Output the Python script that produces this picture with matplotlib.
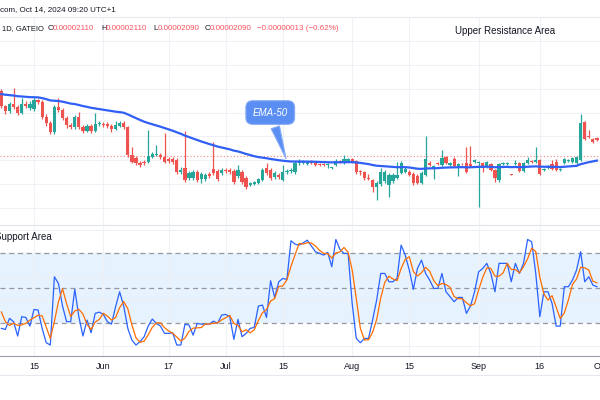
import matplotlib
matplotlib.use("Agg")
import matplotlib.pyplot as plt
from matplotlib.lines import Line2D
import numpy as np
import pandas as pd

plt.rcParams['font.family'] = ['Liberation Sans', 'DejaVu Sans']

#--Daily candles, price in units of 1e-8--#
start_date = pd.Timestamp('2024-05-07')
opens = [2420, 2345, 2320, 2355, 2340, 2310, 2355, 2335, 2330, 2375,
         2365, 2290, 2255, 2210, 2340, 2325, 2285, 2245, 2235, 2290,
         2235, 2215, 2240, 2215, 2250, 2250, 2250, 2240, 2225, 2240,
         2255, 2235, 2095, 2080, 2055, 2060, 2060, 2085, 2095, 2095,
         2085, 2075, 2075, 2070, 2010, 2030, 1980, 1980, 2010, 1975,
         1975, 2000, 2025, 2015, 2005, 2020, 2020, 2015, 1990, 2010,
         1980, 1945, 1950, 1955, 1970, 2030, 2020, 1985, 1995, 1970,
         2010, 2015, 2010, 2055, 2055, 2050, 2065, 2055, 2050, 2050,
         2045, 2030, 2045, 2065, 2055, 2065, 2075, 2065, 2015, 2010,
         1980, 1970, 1935, 1950, 1965, 1945, 1965, 1980, 2005, 2010,
         2010, 2000, 1990, 1955, 1995, 2055, 2030, 2055, 2045, 2085,
         2045, 2075, 2040, 2050, 2055, 2050, 2060, 2055, 2055, 2035,
         2050, 2020, 1970, 2050, 2050, 2000, 2050, 2055, 2015, 2055,
         2065, 2060, 2070, 2020, 2030, 2050, 2060, 2020, 2055, 2065,
         2060, 2055, 2070, 2260, 2190, 2175, 2180]
highs = [2430, 2350, 2365, 2435, 2350, 2385, 2370, 2370, 2385, 2380,
         2375, 2305, 2270, 2350, 2385, 2335, 2295, 2255, 2300, 2315,
         2245, 2250, 2250, 2310, 2265, 2260, 2260, 2250, 2270, 2270,
         2265, 2240, 2135, 2090, 2065, 2070, 2220, 2110, 2145, 2105,
         2205, 2085, 2085, 2080, 2035, 2215, 2015, 2020, 2020, 2010,
         2005, 2010, 2160, 2025, 2030, 2030, 2030, 2025, 2045, 2020,
         1990, 1960, 1965, 1980, 2030, 2055, 2030, 2015, 2005, 2045,
         2025, 2030, 2065, 2075, 2070, 2065, 2070, 2060, 2055, 2055,
         2055, 2035, 2075, 2070, 2095, 2080, 2080, 2070, 2020, 2015,
         2000, 1975, 1965, 2030, 2020, 2005, 2005, 2060, 2065, 2035,
         2020, 2010, 2000, 2015, 2190, 2065, 2045, 2060, 2120, 2090,
         2060, 2085, 2055, 2055, 2135, 2140, 2075, 2065, 2060, 2065,
         2055, 2025, 2055, 2060, 2060, 2002, 2070, 2060, 2060, 2085,
         2070, 2135, 2075, 2030, 2045, 2070, 2075, 2030, 2080, 2075,
         2085, 2090, 2305, 2270, 2220, 2180, 2185]
lows = [2335, 2305, 2310, 2330, 2300, 2305, 2335, 2325, 2320, 2355,
        2280, 2240, 2200, 2200, 2315, 2275, 2230, 2225, 2225, 2225,
        2205, 2210, 2205, 2210, 2240, 2235, 2230, 2210, 2220, 2235,
        2225, 2085, 2055, 2045, 2035, 2045, 2055, 2080, 2090, 2075,
        2055, 2055, 2050, 2000, 2000, 1960, 1970, 1970, 1960, 1955,
        1965, 1980, 1995, 1965, 1995, 2005, 2000, 1950, 1980, 1950,
        1925, 1940, 1945, 1950, 1965, 1995, 1970, 1975, 1975, 1965,
        2000, 2005, 2000, 2045, 2050, 2045, 2050, 2040, 2040, 2040,
        2030, 2025, 2040, 2055, 2050, 2060, 2055, 2000, 1995, 1970,
        1970, 1910, 1870, 1940, 1955, 1885, 1955, 1975, 2000, 2005,
        1990, 1945, 1950, 1950, 1990, 2040, 1975, 2045, 2040, 2050,
        2040, 2035, 1990, 2045, 2005, 2035, 2055, 1835, 2010, 2030,
        2015, 1960, 1960, 2045, 2045, 1996, 2045, 2010, 2010, 2050,
        2055, 2055, 1995, 2015, 2025, 2020, 2015, 2015, 2050, 2060,
        2055, 2050, 2065, 2170, 2180, 2155, 2165]
closes = [2345, 2320, 2355, 2340, 2310, 2355, 2345, 2355, 2375, 2365,
          2290, 2255, 2210, 2340, 2325, 2285, 2245, 2235, 2290, 2235,
          2215, 2240, 2215, 2250, 2255, 2245, 2240, 2225, 2245, 2255,
          2235, 2095, 2060, 2055, 2045, 2055, 2090, 2100, 2100, 2085,
          2060, 2065, 2060, 2010, 2020, 1970, 2005, 2010, 1970, 2000,
          1995, 1990, 2005, 1975, 2020, 2015, 2010, 1960, 2020, 1960,
          1935, 1955, 1960, 1975, 2020, 2005, 1980, 2005, 1985, 2010,
          2015, 2020, 2055, 2065, 2060, 2060, 2055, 2045, 2047, 2045,
          2050, 2032, 2065, 2060, 2075, 2075, 2060, 2010, 2010, 1980,
          1977, 1935, 1955, 2010, 2010, 1995, 1995, 1995, 2055, 2025,
          1995, 1955, 1955, 2005, 2075, 2045, 2040, 2050, 2080, 2055,
          2055, 2040, 2050, 2049, 2010, 2040, 2070, 2060, 2035, 2060,
          2020, 1980, 2050, 2055, 2055, 1998, 2055, 2015, 2055, 2070,
          2060, 2070, 2000, 2025, 2040, 2025, 2020, 2025, 2075, 2070,
          2080, 2085, 2255, 2175, 2185, 2160, 2170]
ema_prev = 2405          # EMA-50 value just before the first visible candle
last_price = 2090        # current price (dotted line)

#--Stoch RSI %K (first two values lie left of the view)--#
stoch_k = [40.0, 33.0,
           15.1, 14.2, 23.8, 20.9, 8.5, 25.2, 24.6, 17.1, 31.5, 31.0,
           15.1, 2.7, 0.7, 59.8, 54.0, 34.4, 20.9, 20.9, 48.9, 25.2,
           8.5, 22.3, 11.3, 28.1, 29.2, 27.2, 20.9, 18.8, 33.8, 46.8,
           34.4, 15.1, 5.0, 0.7, 3.6, 7.9, 17.1, 23.2, 19.4, 17.1,
           10.8, 10.8, 11.3, 0.7, 0.7, 18.6, 18.0, 9.3, 19.4, 18.8,
           18.8, 18.8, 21.4, 19.4, 26.6, 27.2, 25.2, 5.6, 22.9, 7.9,
           10.8, 15.1, 16.0, 34.4, 35.3, 24.6, 56.4, 41.9, 55.5, 58.4,
           57.5, 91.0, 88.0,
           87.2, 89.2, 91.5, 86.4, 81.5, 80.0, 78.6, 80.9, 68.5, 92.1,
           83.5, 80.0, 80.0, 36.7, 6.4, 2.7, 6.4, 6.4, 22.3, 39.6,
           62.7, 62.7, 55.5, 55.5, 58.4, 87.2, 78.6, 65.6, 48.9, 67.0,
           74.2, 62.7, 56.9, 49.7, 49.7, 62.7, 46.8, 42.5, 38.2, 41.9,
           41.9, 28.1, 34.4, 46.8, 64.1, 67.0, 71.4, 62.7, 46.8, 71.4,
           71.4, 71.4, 55.5, 71.4, 62.7, 71.4, 92.1, 90.1, 62.7, 25.2,
           46.8, 46.8, 36.7, 17.1, 17.1, 51.2, 51.2, 56.9, 65.6, 81.5,
           55.5, 59.8, 52.6, 51.2]

tick_dates = ['2024-05-15', '2024-06-01', '2024-06-17', '2024-07-01', '2024-07-15',
              '2024-08-01', '2024-08-15', '2024-09-01', '2024-09-16', '2024-10-01']
tick_labels = ['15', 'Jun', '17', 'Jul', '15', 'Aug', '15', 'Sep', '16', 'Oct']

header_time = 'com, Oct 14, 2024 09:20 UTC+1'
header_symbol = '1D, GATEIO'
header_ohlc = [('O', '0.00002110'), ('H', '0.00002110'), ('L', '0.00002090'), ('C', '0.00002090')]
header_change = '\u22120.00000013 (\u22120.62%)'

#--Derived series--#
o = np.array(opens, float)
h = np.array(highs, float)
l = np.array(lows, float)
c = np.array(closes, float)
x = np.arange(len(c))

alpha = 2.0 / 51
ema = []
e = ema_prev
for v in c:
    e = alpha * v + (1 - alpha) * e
    ema.append(e)

k = pd.Series(stoch_k)
d = k.rolling(3).mean()
k = k.values[2:]
d = d.values[2:]

ticks = [(pd.Timestamp(t) - start_date).days for t in tick_dates]

GRID = '#eef1f6'
UP = '#26a69a'
DOWN = '#ef5350'
DARK = '#131722'
RED = '#f7525f'

fig = plt.figure(figsize=(6, 4), dpi=100)
ax1 = fig.add_axes([0, 175 / 400, 610 / 600, 208 / 400])
ax2 = fig.add_axes([0, 44 / 400, 610 / 600, 129 / 400])

for ax in (ax1, ax2):
    ax.set_xlim(-0.33, 149.2)
    ax.set_xticks(ticks)
    ax.tick_params(length=0)
    ax.grid(True, color=GRID, lw=0.8, zorder=0)
    ax.set_axisbelow(True)
    for s in ax.spines.values():
        s.set_visible(False)
    ax.set_yticklabels([])

#--Price panel--#
ax1.set_ylim(1745, 2785)
ax1.set_yticks(np.arange(1830, 2800, 120))
ax1.set_xticklabels([])
ax1.spines['top'].set_visible(True)
ax1.spines['top'].set_color('#e6e9ef')
ax1.spines['bottom'].set_visible(True)
ax1.spines['bottom'].set_color('#e0e3eb')

colors = np.where(c >= o, UP, DOWN)
ax1.vlines(x, l, h, colors=colors, lw=0.9, zorder=2)
body_low = np.minimum(o, c)
body_h = np.maximum(np.abs(c - o), 4)
ax1.bar(x, body_h, bottom=body_low, width=0.8, color=colors, lw=0, zorder=3)

ax1.axhline(last_price, color=DOWN, lw=0.8, ls=(0, (1, 2)), alpha=0.7, zorder=1)
ax1.plot(x, ema, color='#2f5ff5', lw=1.6, zorder=4)

tip = 70
ax1.annotate('EMA-50', xy=(tip, ema[tip]), xytext=(-12, 35), textcoords='offset points',
             ha='center', va='center', color='white', style='italic', fontsize=7,
             bbox=dict(boxstyle='round,pad=0.7', fc='#5b8ef2', ec='#86acf5', lw=0.8),
             arrowprops=dict(arrowstyle='wedge,tail_width=0.9,shrink_factor=0.5',
                             fc='#5b8ef2', ec='#86acf5', lw=0.8),
             zorder=6)

#--Stoch RSI panel--#
ax2.set_ylim(-8.8, 102.9)
ax2.set_yticks([0, 40, 60, 100])
ax2.axhspan(20, 80, color='#e6f2fd', lw=0, zorder=0)
for lvl in (80, 50, 20):
    ax2.axhline(lvl, color='#9598a1', lw=0.9, ls=(0, (4, 3)), zorder=1)
ax2.plot(x, k, color='#2962ff', lw=0.9, zorder=3)
ax2.plot(x, d, color='#ff6d00', lw=0.9, zorder=4)
ax2.spines['bottom'].set_visible(True)
ax2.spines['bottom'].set_color('#9a9da6')
ax2.set_xticklabels(tick_labels, fontsize=6.5, color=DARK)
ax2.tick_params(axis='x', pad=4)

#--Header and area labels--#
fig.text(0, 1 - 10 / 400, header_time, fontsize=5.8, color=DARK, va='center')
fig.text(2 / 600, 1 - 29 / 400, header_symbol, fontsize=5.4, color=DARK, va='center')
xpos = [48, 101, 153, 205]
for (lab, val), px in zip(header_ohlc, xpos):
    fig.text(px / 600, 1 - 29 / 400, lab, fontsize=5.8, color=DARK, va='center')
    fig.text((px + 5) / 600, 1 - 29 / 400, val, fontsize=5.8, color=RED, va='center')
fig.text(257 / 600, 1 - 29 / 400, header_change, fontsize=5.8, color=RED, va='center')

fig.text(505 / 600, 1 - 31 / 400, 'Upper Resistance Area', fontsize=7, color=DARK,
         ha='center', va='center')
fig.text(-5 / 600, 1 - 237 / 400, 'Support Area', fontsize=7, color=DARK, va='center')

fig.add_artist(Line2D([0, 1], [1 - 375 / 400] * 2, color='#e6e9ef', lw=0.8))

fig.savefig('out.png', dpi=100)
